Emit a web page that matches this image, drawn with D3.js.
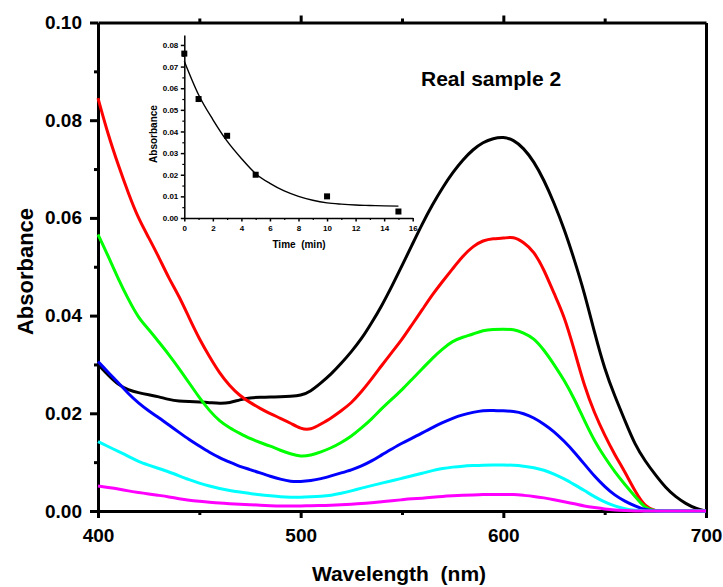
<!DOCTYPE html>
<html>
<head>
<meta charset="utf-8">
<script src="https://cdn.jsdelivr.net/npm/d3@7"></script>
<style>
  html, body { margin: 0; padding: 0; background: #fff; }
  svg { display: block; }
  text { font-family: "Liberation Sans", Arial, sans-serif; font-weight: bold; fill: #000; }
</style>
</head>
<body>
<svg id="chart" width="723" height="587"></svg>
<script>
// Wavelength grid (nm), 5 nm steps from 400 to 700
const wavelengths = d3.range(400, 701, 5);

// Absorbance spectra of the sample, one trace per reaction time
const absBlack = [
  0.0300, 0.0278, 0.0258, 0.0248, 0.0242, 0.0238, 0.0234, 0.0228, 0.0225, 0.0224,
  0.0223, 0.0222, 0.0220, 0.0221, 0.0228, 0.0232, 0.0233, 0.0233, 0.0234, 0.0235,
  0.0236, 0.0245, 0.0262, 0.0280, 0.0302, 0.0326, 0.0352, 0.0385, 0.0420, 0.0460,
  0.0502, 0.0545, 0.0588, 0.0627, 0.0662, 0.0693, 0.0719, 0.0740, 0.0755, 0.0763,
  0.0766, 0.0760, 0.0743, 0.0716, 0.0678, 0.0631, 0.0578, 0.0515, 0.0447, 0.0365,
  0.0290, 0.0235, 0.0185, 0.0135, 0.0102, 0.0074, 0.0048, 0.0029, 0.0015, 0.0005,
  0.0000
];
const absRed = [
  0.0845, 0.0770, 0.0708, 0.0650, 0.0598, 0.0560, 0.0520, 0.0476, 0.0440, 0.0395,
  0.0352, 0.0316, 0.0282, 0.0256, 0.0236, 0.0222, 0.0210, 0.0199, 0.0190, 0.0180,
  0.0168, 0.0166, 0.0178, 0.0190, 0.0205, 0.0221, 0.0244, 0.0270, 0.0298, 0.0325,
  0.0351, 0.0382, 0.0412, 0.0443, 0.0470, 0.0496, 0.0522, 0.0542, 0.0554, 0.0558,
  0.0558, 0.0562, 0.0550, 0.0532, 0.0495, 0.0445, 0.0400, 0.0330, 0.0255, 0.0200,
  0.0155, 0.0115, 0.0080, 0.0040, 0.0008, 0.0000, 0.0000, 0.0000, 0.0000, 0.0000,
  0.0000
];
const absGreen = [
  0.0566, 0.0522, 0.0475, 0.0433, 0.0395, 0.0372, 0.0346, 0.0320, 0.0292, 0.0262,
  0.0232, 0.0205, 0.0184, 0.0170, 0.0159, 0.0148, 0.0140, 0.0133, 0.0124, 0.0117,
  0.0111, 0.0114, 0.0121, 0.0129, 0.0140, 0.0153, 0.0170, 0.0188, 0.0210, 0.0229,
  0.0248, 0.0270, 0.0291, 0.0313, 0.0332, 0.0348, 0.0356, 0.0362, 0.0370, 0.0372,
  0.0372, 0.0372, 0.0365, 0.0354, 0.0330, 0.0300, 0.0268, 0.0230, 0.0185, 0.0143,
  0.0110, 0.0080, 0.0054, 0.0030, 0.0005, 0.0000, 0.0000, 0.0000, 0.0000, 0.0000,
  0.0000
];
const absBlue = [
  0.0306, 0.0284, 0.0263, 0.0240, 0.0221, 0.0205, 0.0191, 0.0176, 0.0161, 0.0146,
  0.0133, 0.0120, 0.0109, 0.0100, 0.0091, 0.0085, 0.0078, 0.0071, 0.0065, 0.0060,
  0.0060, 0.0062, 0.0066, 0.0072, 0.0078, 0.0084, 0.0092, 0.0102, 0.0115, 0.0127,
  0.0139, 0.0149, 0.0160, 0.0171, 0.0181, 0.0190, 0.0197, 0.0202, 0.0206, 0.0206,
  0.0205, 0.0204, 0.0200, 0.0191, 0.0178, 0.0163, 0.0143, 0.0121, 0.0096, 0.0071,
  0.0050, 0.0032, 0.0020, 0.0010, 0.0002, 0.0000, 0.0000, 0.0000, 0.0000, 0.0000,
  0.0000
];
const absCyan = [
  0.0142, 0.0132, 0.0122, 0.0112, 0.0101, 0.0094, 0.0087, 0.0080, 0.0072, 0.0064,
  0.0057, 0.0051, 0.0046, 0.0042, 0.0039, 0.0036, 0.0033, 0.0031, 0.0029, 0.0028,
  0.0028, 0.0029, 0.0030, 0.0032, 0.0036, 0.0041, 0.0047, 0.0052, 0.0057, 0.0062,
  0.0067, 0.0072, 0.0077, 0.0083, 0.0087, 0.0090, 0.0092, 0.0093, 0.0094, 0.0094,
  0.0094, 0.0094, 0.0092, 0.0089, 0.0084, 0.0076, 0.0066, 0.0054, 0.0042, 0.0029,
  0.0018, 0.0010, 0.0004, 0.0001, 0.0000, 0.0000, 0.0000, 0.0000, 0.0000, 0.0000,
  0.0000
];
const absMagenta = [
  0.0051, 0.0048, 0.0045, 0.0041, 0.0038, 0.0035, 0.0032, 0.0029, 0.0025, 0.0022,
  0.0020, 0.0018, 0.0016, 0.0015, 0.0014, 0.0013, 0.0012, 0.0011, 0.0010, 0.0010,
  0.0010, 0.0011, 0.0011, 0.0012, 0.0013, 0.0014, 0.0015, 0.0017, 0.0019, 0.0021,
  0.0023, 0.0025, 0.0026, 0.0028, 0.0030, 0.0031, 0.0032, 0.0033, 0.0034, 0.0034,
  0.0034, 0.0034, 0.0032, 0.0030, 0.0027, 0.0023, 0.0019, 0.0015, 0.0010, 0.0007,
  0.0004, 0.0002, 0.0001, 0.0000, 0.0000, 0.0000, 0.0000, 0.0000, 0.0000, 0.0000,
  0.0000
];
const traceColors = ["#000000", "#ff0000", "#00ff00", "#0000ff", "#00ffff", "#ff00ff"];

// Main axis ticks
const xTicks = [400, 500, 600, 700];
const xMinorTicks = [450, 550, 650];
const yTicks = [0.00, 0.02, 0.04, 0.06, 0.08, 0.10];
const yMinorTicks = [0.01, 0.03, 0.05, 0.07, 0.09];

// Inset: absorbance at 600 nm vs time, with its exponential decay fit
const insetTime = [0, 1, 3, 5, 10, 15];
const insetAbs = [0.076, 0.055, 0.038, 0.020, 0.010, 0.003];
const fitTime = [0, 1, 2, 3, 4, 5, 6, 7, 8, 9, 10, 11, 12, 13, 14, 15];
const fitAbs = [0.0725, 0.0570, 0.0455, 0.0355, 0.0275, 0.0205, 0.0160, 0.0125,
                0.0100, 0.0082, 0.0070, 0.0064, 0.0060, 0.0058, 0.0056, 0.0055];
const insetXTicks = [0, 2, 4, 6, 8, 10, 12, 14, 16];
const insetXMinor = [1, 3, 5, 7, 9, 11, 13, 15];
const insetYTicks = [0.00, 0.01, 0.02, 0.03, 0.04, 0.05, 0.06, 0.07, 0.08];
const insetYMinor = [0.005, 0.015, 0.025, 0.035, 0.045, 0.055, 0.065, 0.075];

const svg = d3.select("#chart");

// ---------- main plot ----------
const x = d3.scaleLinear().domain([400, 700]).range([98, 706]);
const y = d3.scaleLinear().domain([0, 0.1]).range([511, 22.5]);
const [plotLeft, plotRight] = x.range();
const [plotBottom, plotTop] = y.range();

function styleAxis(g, width) {
  g.selectAll(".domain").attr("stroke", "#000").attr("stroke-width", width);
  g.selectAll(".tick line").attr("stroke", "#000").attr("stroke-width", width);
}

// minor ticks
svg.append("g").attr("transform", `translate(0,${plotBottom})`)
  .call(d3.axisBottom(x).tickValues(xMinorTicks).tickSize(4).tickFormat(""))
  .call(g => { g.select(".domain").remove(); styleAxis(g, 3); });
svg.append("g").attr("transform", `translate(0,${plotTop})`)
  .call(d3.axisTop(x).tickValues(xMinorTicks).tickSize(4).tickFormat(""))
  .call(g => { g.select(".domain").remove(); styleAxis(g, 3); });
svg.append("g").attr("transform", `translate(${plotLeft},0)`)
  .call(d3.axisLeft(y).tickValues(yMinorTicks).tickSize(4).tickFormat(""))
  .call(g => { g.select(".domain").remove(); styleAxis(g, 3); });

// major axes
const xAxis = svg.append("g").attr("transform", `translate(0,${plotBottom})`)
  .call(d3.axisBottom(x).tickValues(xTicks).tickSize(7).tickSizeOuter(0).tickPadding(11).tickFormat(d3.format("d")))
  .call(g => styleAxis(g, 3));
xAxis.selectAll("text").attr("font-size", 19);

svg.append("g").attr("transform", `translate(0,${plotTop})`)
  .call(d3.axisTop(x).tickValues(xTicks.slice(1, -1)).tickSize(7).tickSizeOuter(0).tickFormat(""))
  .call(g => styleAxis(g, 3));

const yAxis = svg.append("g").attr("transform", `translate(${plotLeft},0)`)
  .call(d3.axisLeft(y).tickValues(yTicks).tickSize(8).tickSizeOuter(0).tickPadding(8).tickFormat(d3.format(".2f")))
  .call(g => styleAxis(g, 3));
yAxis.selectAll("text").attr("font-size", 19);

svg.append("g").attr("transform", `translate(${plotRight},0)`)
  .call(d3.axisRight(y).tickValues([]).tickSizeOuter(0))
  .call(g => styleAxis(g, 3));

// spectra
const traces = [absBlack, absRed, absGreen, absBlue, absCyan, absMagenta];
const line = d3.line()
  .x((d, i) => x(wavelengths[i]))
  .y(d => y(d))
  .curve(d3.curveBasis);
svg.append("g").selectAll("path")
  .data(traces)
  .join("path")
  .attr("d", line)
  .attr("fill", "none")
  .attr("stroke", (d, i) => traceColors[i])
  .attr("stroke-width", 3)
  .attr("stroke-linejoin", "round");

// axis titles
svg.append("text")
  .attr("x", 399).attr("y", 581)
  .attr("text-anchor", "middle")
  .attr("font-size", 21)
  .style("white-space", "pre")
  .text("Wavelength  (nm)");
svg.append("text")
  .attr("transform", "translate(33,271.5) rotate(-90)")
  .attr("text-anchor", "middle")
  .attr("font-size", 22)
  .text("Absorbance");

svg.append("text")
  .attr("x", 421).attr("y", 86)
  .attr("font-size", 21)
  .text("Real sample 2");

// ---------- inset ----------
const ix = d3.scaleLinear().domain([0, 16]).range([184.3, 412.7]);
const iy = d3.scaleLinear().domain([0, 0.0846]).range([218, 35]);

svg.append("g").attr("transform", "translate(0,218)")
  .call(d3.axisBottom(ix).tickValues(insetXMinor).tickSize(2).tickFormat(""))
  .call(g => { g.select(".domain").remove(); styleAxis(g, 1.2); });
svg.append("g").attr("transform", "translate(184.3,0)")
  .call(d3.axisLeft(iy).tickValues(insetYMinor).tickSize(2).tickFormat(""))
  .call(g => { g.select(".domain").remove(); styleAxis(g, 1.2); });

const ixAxis = svg.append("g").attr("transform", "translate(0,218)")
  .call(d3.axisBottom(ix).tickValues(insetXTicks).tickSize(3.5).tickSizeOuter(0).tickPadding(3.5).tickFormat(d3.format("d")))
  .call(g => styleAxis(g, 1.5));
ixAxis.selectAll("text").attr("font-size", 8);

const iyAxis = svg.append("g").attr("transform", "translate(184.3,0)")
  .call(d3.axisLeft(iy).tickValues(insetYTicks).tickSize(3.5).tickSizeOuter(0).tickPadding(2.5).tickFormat(d3.format(".2f")))
  .call(g => styleAxis(g, 1.5));
iyAxis.selectAll("text").attr("font-size", 8);

svg.append("path")
  .datum(fitAbs)
  .attr("d", d3.line().x((d, i) => ix(fitTime[i])).y(d => iy(d)).curve(d3.curveMonotoneX))
  .attr("fill", "none")
  .attr("stroke", "#000")
  .attr("stroke-width", 1.4);

const sq = 6;
svg.append("g").selectAll("rect")
  .data(insetAbs)
  .join("rect")
  .attr("x", (d, i) => ix(insetTime[i]) - sq / 2)
  .attr("y", d => iy(d) - sq / 2)
  .attr("width", sq).attr("height", sq)
  .attr("fill", "#000");

svg.append("text")
  .attr("x", 299).attr("y", 248)
  .attr("text-anchor", "middle")
  .attr("font-size", 10)
  .style("white-space", "pre")
  .text("Time  (min)");
svg.append("text")
  .attr("transform", "translate(157,134) rotate(-90)")
  .attr("text-anchor", "middle")
  .attr("font-size", 10)
  .text("Absorbance");
</script>
</body>
</html>
